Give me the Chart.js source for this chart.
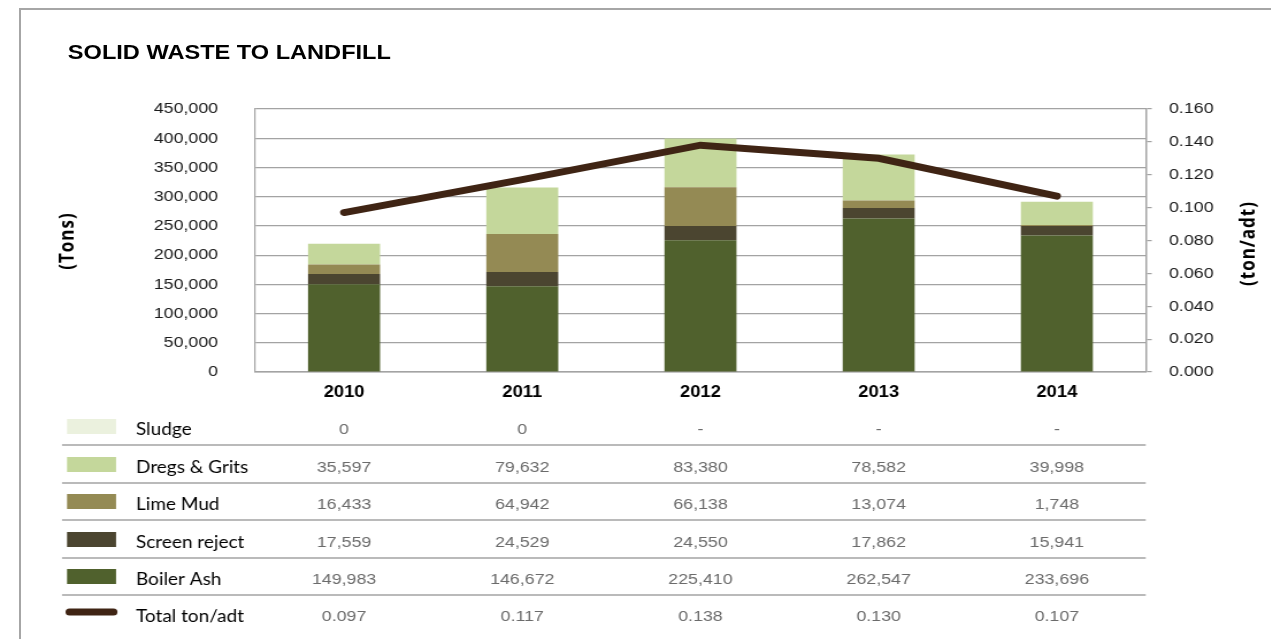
<!DOCTYPE html>
<html>
<head>
<meta charset="utf-8">
<script src="https://cdn.jsdelivr.net/npm/chart.js@4.4.1/dist/chart.umd.min.js"></script>
<style>
  html, body { margin: 0; padding: 0; background: #fff; width: 1271px; height: 639px; overflow: hidden; }
  #frame { position: absolute; left: 19px; top: 8px; width: 1260px; height: 640px;
           border-top: 2px solid #a6a6a6; border-left: 2px solid #a6a6a6; box-sizing: border-box; }
  #wrap { position: absolute; left: 0; top: 0; width: 1105px; height: 639px;
          transform: scaleX(1.15); transform-origin: 0 0; }
  #title { position: absolute; left: 59px; top: 42px; font: bold 20.5px "Liberation Sans", Arial, sans-serif;
           line-height: 20px; color: #000; white-space: nowrap; }
  canvas { position: absolute; left: 0; top: 0; }
</style>
</head>
<body>
<div id="frame"></div>
<div id="wrap">
  <div id="title">SOLID WASTE TO LANDFILL</div>
  <canvas id="c" width="1105" height="639"></canvas>
</div>
<script>
// ---- data ----
const categories   = ['2010', '2011', '2012', '2013', '2014'];
const boilerAsh    = [149983, 146672, 225410, 262547, 233696];
const screenReject = [17559, 24529, 24550, 17862, 15941];
const limeMud      = [16433, 64942, 66138, 13074, 1748];
const dregsGrits   = [35597, 79632, 83380, 78582, 39998];
const sludge       = [0, 0, null, null, null];
const totalTonAdt  = [0.097, 0.117, 0.138, 0.130, 0.107];
const leftAxis  = { min: 0, max: 450000, step: 50000 };
const rightAxis = { min: 0, max: 0.16, step: 0.02 };

const W = 1105;
const PLOT_L = 221.7, PLOT_R = 996.5, PLOT_T = 109, PLOT_B = 372;
const GRID = '#a3a3a3';
const TICK_FONT = { family: '"Liberation Sans", Arial, sans-serif', size: 15.5 };

const fmtNum = v => (v === null || v === undefined) ? '-' : v.toLocaleString('en-US');

const tablePlugin = {
  id: 'tablePlugin',
  afterDraw(chart) {
    const ctx = chart.ctx;
    const xs = chart.scales.x;
    const ds = chart.data.datasets;
    // table rows, top to bottom
    const rows = [
      { d: ds[4], kind: 'bar', fmt: fmtNum },
      { d: ds[3], kind: 'bar', fmt: fmtNum },
      { d: ds[2], kind: 'bar', fmt: fmtNum },
      { d: ds[1], kind: 'bar', fmt: fmtNum },
      { d: ds[0], kind: 'bar', fmt: fmtNum },
      { d: ds[5], kind: 'line', fmt: v => v.toFixed(3) }
    ];
    const rowY = [428, 466, 503, 541, 578, 615];
    ctx.save();
    rows.forEach((r, i) => {
      const y = rowY[i];
      // swatch
      if (r.kind === 'bar') {
        ctx.fillStyle = r.d.backgroundColor;
        ctx.fillRect(58.3, y - 9, 42.6, 15);
      } else {
        ctx.strokeStyle = r.d.borderColor;
        ctx.lineWidth = 7;
        ctx.lineCap = 'round';
        ctx.beginPath();
        ctx.moveTo(60.5, y - 3);
        ctx.lineTo(98.6, y - 3);
        ctx.stroke();
      }
      // label
      ctx.fillStyle = '#000';
      ctx.font = '16.5px Lato, "Open Sans", sans-serif';
      ctx.textAlign = 'left';
      ctx.textBaseline = 'middle';
      ctx.fillText(r.d.label, 118.3, y + 1.5);
      // values
      ctx.fillStyle = '#6b6b6b';
      ctx.font = '15.5px "Liberation Sans", Arial, sans-serif';
      ctx.textAlign = 'center';
      r.d.data.forEach((v, j) => {
        ctx.fillText(r.fmt(v), xs.getPixelForValue(j), y + 1.5);
      });
      // separator
      if (i < rows.length - 1) {
        ctx.strokeStyle = GRID;
        ctx.lineWidth = 1.5;
        ctx.lineCap = 'butt';
        ctx.beginPath();
        ctx.moveTo(53.9, y + 17);
        ctx.lineTo(996.3, y + 17);
        ctx.stroke();
      }
    });
    // axis titles
    ctx.fillStyle = '#000';
    ctx.font = 'bold 17px "Open Sans", sans-serif';
    ctx.textAlign = 'center';
    ctx.textBaseline = 'middle';
    try { ctx.letterSpacing = '1px'; } catch (e) {}
    const drawRot = (txt, x, y) => {
      ctx.save();
      ctx.translate(x, y);
      ctx.rotate(-Math.PI / 2);
      ctx.fillText(txt, 0, 0);
      ctx.restore();
    };
    drawRot('(Tons)', 59.1, 241);
    drawRot('(ton/adt)', 1086, 243.5);
    try { ctx.letterSpacing = '0px'; } catch (e) {}
    ctx.restore();
  }
};

new Chart(document.getElementById('c'), {
  data: {
    labels: categories,
    datasets: [
      { type: 'bar', label: 'Boiler Ash', data: boilerAsh, backgroundColor: '#50612d', yAxisID: 'y', stack: 's', order: 1 },
      { type: 'bar', label: 'Screen reject', data: screenReject, backgroundColor: '#4b4530', yAxisID: 'y', stack: 's', order: 1 },
      { type: 'bar', label: 'Lime Mud', data: limeMud, backgroundColor: '#948a54', yAxisID: 'y', stack: 's', order: 1 },
      { type: 'bar', label: 'Dregs & Grits', data: dregsGrits, backgroundColor: '#c4d79b', yAxisID: 'y', stack: 's', order: 1 },
      { type: 'bar', label: 'Sludge', data: sludge, backgroundColor: '#ebf1de', yAxisID: 'y', stack: 's', order: 1 },
      { type: 'line', label: 'Total ton/adt', data: totalTonAdt, borderColor: '#3f2414', backgroundColor: '#3f2414',
        borderWidth: 7, pointRadius: 0, pointHoverRadius: 0, tension: 0, borderCapStyle: 'round',
        yAxisID: 'y2', order: 0 }
    ]
  },
  options: {
    responsive: false,
    animation: false,
    devicePixelRatio: 1,
    layout: { padding: { left: 0, right: 0, top: PLOT_T, bottom: 639 - PLOT_B - 30 } },
    plugins: { legend: { display: false }, tooltip: { enabled: false }, title: { display: false } },
    datasets: { bar: { barPercentage: 0.404, categoryPercentage: 1.0, borderWidth: 0 } },
    scales: {
      x: {
        stacked: true,
        afterFit: s => { s.height = 30; },
        grid: { display: true, drawOnChartArea: false, drawTicks: false, color: GRID },
        border: { display: true, color: GRID, width: 1.5 },
        ticks: { color: '#000', padding: 11, font: { family: '"Liberation Sans", Arial, sans-serif', size: 16, weight: 'bold' } }
      },
      y: {
        position: 'left',
        stacked: true,
        min: leftAxis.min, max: leftAxis.max,
        afterFit: s => { s.width = PLOT_L; },
        grid: { color: GRID, lineWidth: 1.2, drawTicks: false },
        border: { display: true, color: GRID, width: 1.2 },
        ticks: { stepSize: leftAxis.step, color: '#1a1a1a', padding: 32, font: TICK_FONT,
                 callback: v => v.toLocaleString('en-US') }
      },
      y2: {
        position: 'right',
        min: rightAxis.min, max: rightAxis.max,
        afterFit: s => { s.width = W - PLOT_R; },
        grid: { drawOnChartArea: false, drawTicks: true, tickLength: 5, color: GRID, lineWidth: 1.2 },
        border: { display: true, color: GRID, width: 1.5 },
        ticks: { stepSize: rightAxis.step, color: '#1a1a1a', padding: 15, font: TICK_FONT,
                 callback: v => Number(v).toFixed(3) }
      }
    }
  },
  plugins: [tablePlugin]
});
</script>
</body>
</html>
